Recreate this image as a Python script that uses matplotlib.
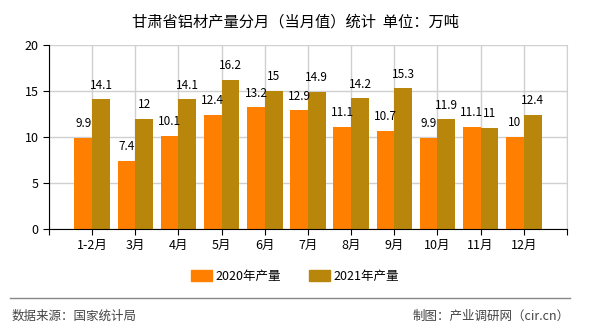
import numpy as np
import matplotlib.pyplot as plt
from matplotlib.patches import Patch
from matplotlib.lines import Line2D

plt.rcParams['font.family'] = ['Noto Sans CJK SC', 'DejaVu Sans']

# 数据
months = ['1-2月', '3月', '4月', '5月', '6月', '7月', '8月', '9月', '10月', '11月', '12月']
y2020 = [9.9, 7.4, 10.1, 12.4, 13.2, 12.9, 11.1, 10.7, 9.9, 11.1, 10]
y2021 = [14.1, 12, 14.1, 16.2, 15, 14.9, 14.2, 15.3, 11.9, 11, 12.4]
labels2020 = ['9.9', '7.4', '10.1', '12.4', '13.2', '12.9', '11.1', '10.7', '9.9', '11.1', '10']
labels2021 = ['14.1', '12', '14.1', '16.2', '15', '14.9', '14.2', '15.3', '11.9', '11', '12.4']

c2020 = '#FF8000'
c2021 = '#B8860B'

fig = plt.figure(figsize=(5.9, 3.3), dpi=100)
ax = fig.add_axes([0.083, 0.306, 0.878, 0.558])

x = np.arange(len(months))
w = 0.41
b1 = ax.bar(x - w / 2, y2020, w, color=c2020, zorder=2)
b2 = ax.bar(x + w / 2, y2021, w, color=c2021, zorder=2)

for rect, s in zip(b1, labels2020):
    ax.annotate(s, (rect.get_x() + rect.get_width() / 2, rect.get_height()),
                xytext=(0, 5.5), textcoords='offset points', ha='center', va='bottom',
                fontsize=8.5, color='black')
for rect, s in zip(b2, labels2021):
    ax.annotate(s, (rect.get_x() + rect.get_width() / 2, rect.get_height()),
                xytext=(0, 5.5), textcoords='offset points', ha='center', va='bottom',
                fontsize=8.5, color='black')

ax.set_xlim(-1, len(months))
ax.set_ylim(0, 20)
ax.set_yticks([0, 5, 10, 15, 20])
ax.set_xticks(np.arange(-1, len(months) + 1))
ax.set_xticklabels([''] + months + [''], fontsize=9)
ax.tick_params(axis='y', labelsize=9, length=4, color='black')
ax.tick_params(axis='x', length=4, color='black', pad=3)
ax.grid(True, color='#d0d0d0', linewidth=1, zorder=0)
ax.set_axisbelow(True)
ax.spines['top'].set_visible(False)
ax.spines['right'].set_color('#d0d0d0')
ax.spines['left'].set_color('black')
ax.spines['bottom'].set_color('black')

fig.text(0.5, 0.933, '甘肃省铝材产量分月（当月值）统计  单位：万吨', ha='center', va='center',
         fontsize=11)

handles = [Patch(color=c2020, label='2020年产量'), Patch(color=c2021, label='2021年产量')]
fig.legend(handles=handles, loc='center', bbox_to_anchor=(0.5, 0.163), ncol=2, frameon=False,
           fontsize=9, handlelength=1.7, handleheight=0.9, columnspacing=2.2, handletextpad=0.3)

fig.add_artist(Line2D([0.017, 0.966], [0.097, 0.097], color='#888888', linewidth=1))
fig.text(0.02, 0.042, '数据来源：国家统计局', ha='left', va='center', fontsize=9, color='#444444')
fig.text(0.966, 0.042, '制图：产业调研网（cir.cn）', ha='right', va='center', fontsize=9, color='#444444')

fig.savefig('out.png', dpi=100)
